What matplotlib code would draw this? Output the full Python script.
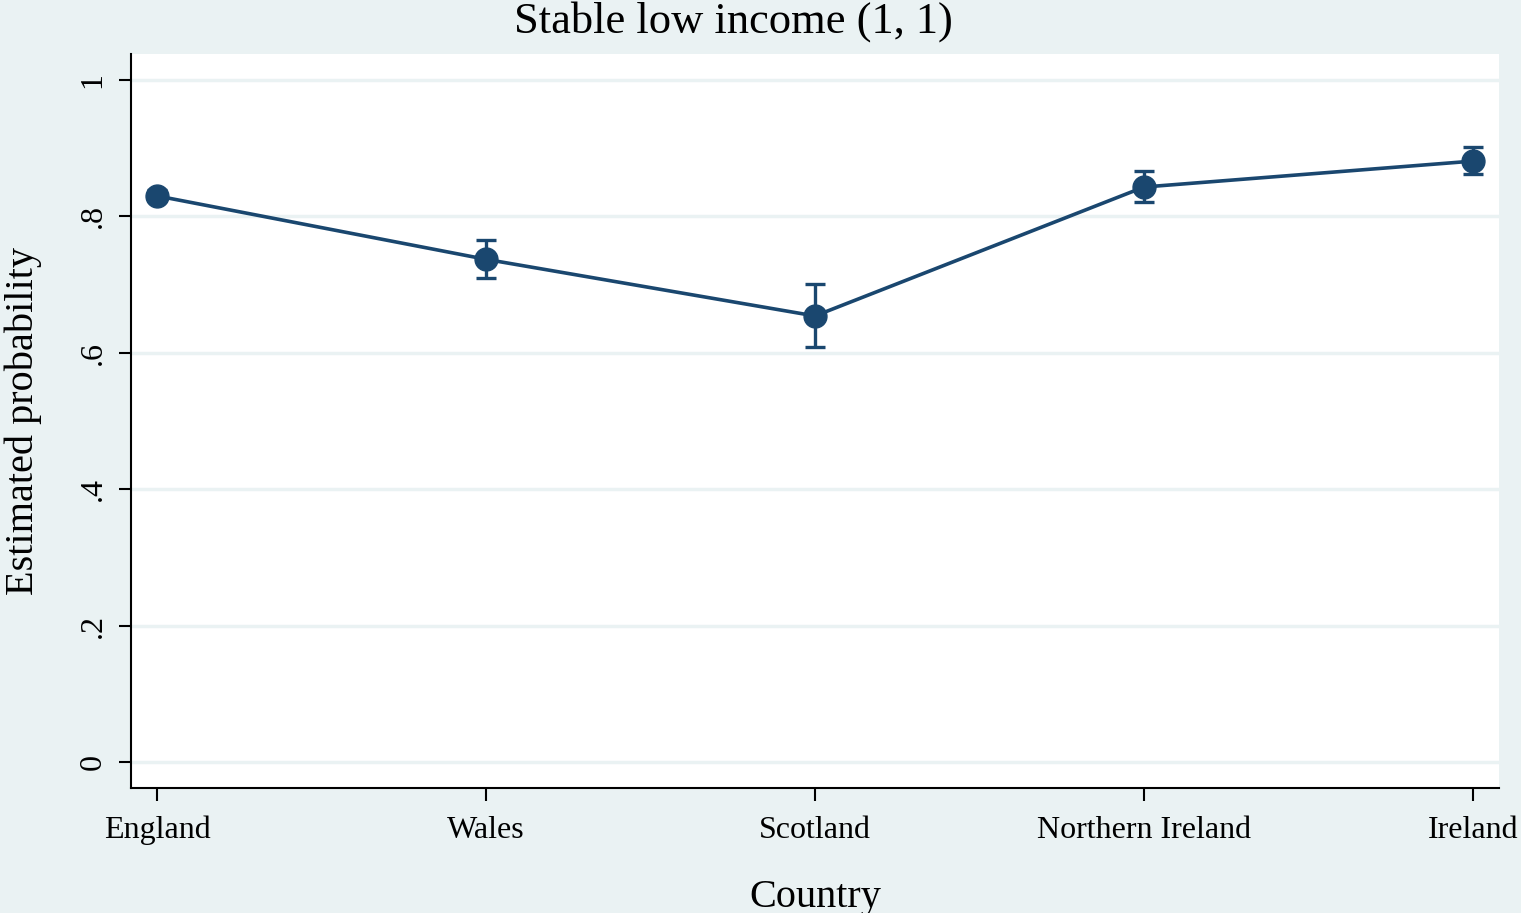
import matplotlib
matplotlib.use("Agg")
import matplotlib.pyplot as plt

countries = ["England", "Wales", "Scotland", "Northern Ireland", "Ireland"]
prob = [0.830, 0.737, 0.654, 0.843, 0.881]
lower = [0.822, 0.710, 0.608, 0.821, 0.862]
upper = [0.838, 0.765, 0.701, 0.866, 0.902]
yticks = [0, 0.2, 0.4, 0.6, 0.8, 1.0]
ylabels = ["0", ".2", ".4", ".6", ".8", "1"]

plt.rcParams['font.family'] = ['Liberation Serif', 'DejaVu Serif']
navy = "#1a476f"
bg = "#eaf2f3"

fig = plt.figure(figsize=(15.21, 9.13), dpi=100, facecolor=bg)
ax = fig.add_axes([131/1521, 1-788/913, (1499-131)/1521, (788-54)/913])
ax.set_facecolor("white")

x = list(range(len(countries)))
yerr = [[p - l for p, l in zip(prob, lower)], [u - p for p, u in zip(prob, upper)]]
ax.errorbar(x, prob, yerr=yerr, color=navy, lw=2.6, marker='o', ms=16.5,
            elinewidth=2.4, capsize=7, capthick=2.4, zorder=3)

ax.set_xlim(-0.079, 4.079)
ax.set_ylim(-0.038, 1.038)
ax.set_yticks(yticks)
ax.set_yticklabels(ylabels, rotation=90, va='center')
ax.set_xticks(x)
ax.set_xticklabels(countries)
ax.grid(axis='y', color=bg, lw=2.5)
ax.set_axisbelow(True)
for s in ['top', 'right']:
    ax.spines[s].set_visible(False)
for s in ['left', 'bottom']:
    ax.spines[s].set_linewidth(1.5)
ax.tick_params(axis='x', length=9, width=1.5, labelsize=23, pad=11)
ax.tick_params(axis='y', length=9, width=1.5, labelsize=23, pad=8)
ax.set_xlabel("Country", fontsize=29, labelpad=24)
ax.set_ylabel("Estimated probability", fontsize=29, labelpad=26)
fig.text(733/1521, 1 - 22/913, "Stable low income (1, 1)", fontsize=32,
         ha='center', va='center')

fig.savefig("out.png", dpi=100, facecolor=bg)
